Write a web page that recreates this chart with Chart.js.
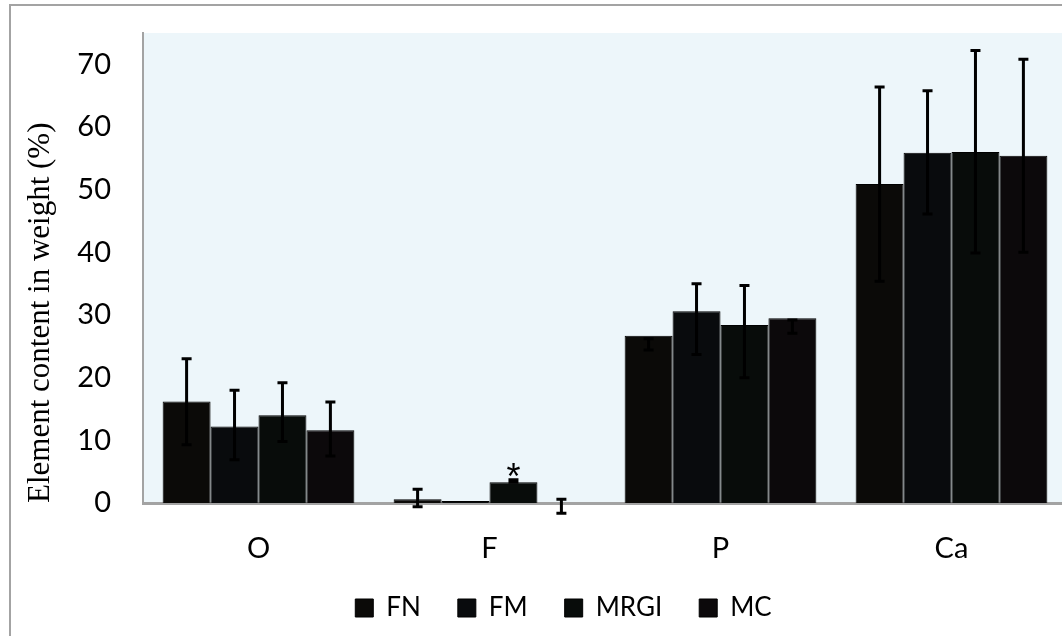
<!DOCTYPE html>
<html>
<head>
<meta charset="utf-8">
<script src="https://cdn.jsdelivr.net/npm/chart.js@4.4.1/dist/chart.umd.min.js"></script>
<style>
  html, body { margin: 0; padding: 0; background: #fff; overflow: hidden; }
  #wrap { position: relative; width: 1062px; height: 636px; overflow: hidden; }
  #frame { position: absolute; left: 9px; top: 4px; width: 1200px; height: 800px;
           border: 2px solid #a3a3a3; pointer-events: none; }
  #myChart { position: absolute; left: 0; top: 0; }
</style>
</head>
<body>
<div id="wrap">
  <canvas id="myChart" width="1072" height="636"></canvas>
  <div id="frame"></div>
</div>
<script>
const elements = ["O", "F", "P", "Ca"];
const seriesNames = ["FN", "FM", "MRGI", "MC"];
const yTicks = [0, 10, 20, 30, 40, 50, 60, 70];

// bar heights (weight %)
const fnValues = [16.2, 0.6, 26.7, 50.9];
const fmValues = [12.2, 0.3, 30.6, 55.9];
const mrgiValues = [14.0, 3.3, 28.4, 56.0];
const mcValues = [11.6, -0.5, 29.5, 55.4];

// error bar ends
const fnErrHigh = [23.0, 2.2, 26.2, 66.4];
const fnErrLow = [9.3, -0.6, 24.4, 35.4];
const fmErrHigh = [18.0, null, 35.0, 65.8];
const fmErrLow = [6.9, null, 23.7, 46.1];
const mrgiErrHigh = [19.2, 3.7, 34.7, 72.2];
const mrgiErrLow = [9.8, 3.3, 20.0, 39.9];
const mcErrHigh = [16.1, 0.6, 29.2, 70.8];
const mcErrLow = [7.5, -1.65, 27.1, 40.0];

const mrgiMarks = ["", "*", "", ""];

const barColors = ["#0b0a08", "#090b0d", "#080c0a", "#0c090b"];

const errHigh = [fnErrHigh, fmErrHigh, mrgiErrHigh, mcErrHigh];
const errLow = [fnErrLow, fmErrLow, mrgiErrLow, mcErrLow];
const marks = [null, null, mrgiMarks, null];

const plotBackground = {
    id: "plotBackground",
    beforeDraw(chart) {
        const {ctx, chartArea} = chart;
        ctx.save();
        ctx.fillStyle = "#edf6fa";
        ctx.fillRect(chartArea.left, chartArea.top, chartArea.right - chartArea.left, chartArea.bottom - chartArea.top);
        ctx.restore();
    },
    afterLayout(chart) {
        // legend sits a bit right of the middle in the original
        chart.legend.left += 30;
        chart.legend.right += 30;
    }
};

const errorBars = {
    id: "errorBars",
    afterDatasetsDraw(chart) {
        const {ctx, scales: {y}} = chart;
        ctx.save();
        ctx.strokeStyle = "#000";
        ctx.lineWidth = 3;
        for (let i = 0; i < chart.data.datasets.length; i++) {
            const meta = chart.getDatasetMeta(i);
            meta.data.forEach((bar, j) => {
                const hi = errHigh[i][j];
                const lo = errLow[i][j];
                if (hi == null) return;
                const yHi = y.getPixelForValue(hi);
                const yLo = y.getPixelForValue(lo);
                ctx.beginPath();
                ctx.moveTo(bar.x, yHi);
                ctx.lineTo(bar.x, yLo);
                ctx.moveTo(bar.x - 5, yHi);
                ctx.lineTo(bar.x + 5, yHi);
                ctx.moveTo(bar.x - 5, yLo);
                ctx.lineTo(bar.x + 5, yLo);
                ctx.stroke();
            });
            if (marks[i]) {
                ctx.fillStyle = "#000";
                ctx.font = "36px 'Liberation Sans'";
                ctx.textAlign = "center";
                ctx.textBaseline = "alphabetic";
                meta.data.forEach((bar, j) => {
                    if (!marks[i][j]) return;
                    ctx.fillText(marks[i][j], bar.x, y.getPixelForValue(errHigh[i][j]) + 9);
                });
            }
        }
        ctx.restore();
    }
};

const seriesData = [fnValues, fmValues, mrgiValues, mcValues];

const myChart = document.getElementById("myChart");

let barChart = new Chart(myChart, {
    type: "bar",
    data: {
        labels: elements,
        datasets: seriesNames.map((name, i) => ({
            label: name,
            data: seriesData[i],
            backgroundColor: barColors[i],
            borderColor: "#000",
            borderWidth: 1,
            clip: 0,
            categoryPercentage: 0.83,
            barPercentage: 1.0
        }))
    },
    options: {
        responsive: false,
        animation: false,
        layout: {
            padding: { top: 33, right: 5, left: 0, bottom: 5 }
        },
        plugins: {
            tooltip: { enabled: false },
            legend: {
                position: "bottom",
                labels: {
                    boxWidth: 18,
                    boxHeight: 18,
                    padding: 37,
                    color: "#000",
                    font: { family: "Lato", size: 26 }
                }
            }
        },
        scales: {
            x: {
                grid: { display: false, drawTicks: false },
                border: { color: "#a3a3a3", width: 3 },
                afterFit: (scale) => {
                    scale.height = 55;
                    scale.paddingLeft = 0;
                    scale.paddingRight = 0;
                },
                ticks: {
                    color: "#000",
                    padding: 28,
                    font: { family: "Lato", size: 29 }
                }
            },
            y: {
                min: 0,
                max: 75,
                grid: { display: false, drawTicks: false },
                border: { color: "#a3a3a3", width: 2 },
                afterBuildTicks: (scale) => {
                    scale.ticks = yTicks.map(v => ({ value: v }));
                },
                afterFit: (scale) => {
                    scale.width = 143;
                    scale.paddingTop = 0;
                    scale.paddingBottom = 0;
                },
                ticks: {
                    color: "#000",
                    padding: 32,
                    font: { family: "Lato", size: 29 }
                },
                title: {
                    display: true,
                    text: "Element content in weight (%)",
                    align: "start",
                    color: "#000",
                    padding: { top: 22, bottom: 0 },
                    font: { family: "Liberation Serif", size: 31 }
                }
            }
        }
    },
    plugins: [plotBackground, errorBars]
});
</script>
</body>
</html>
